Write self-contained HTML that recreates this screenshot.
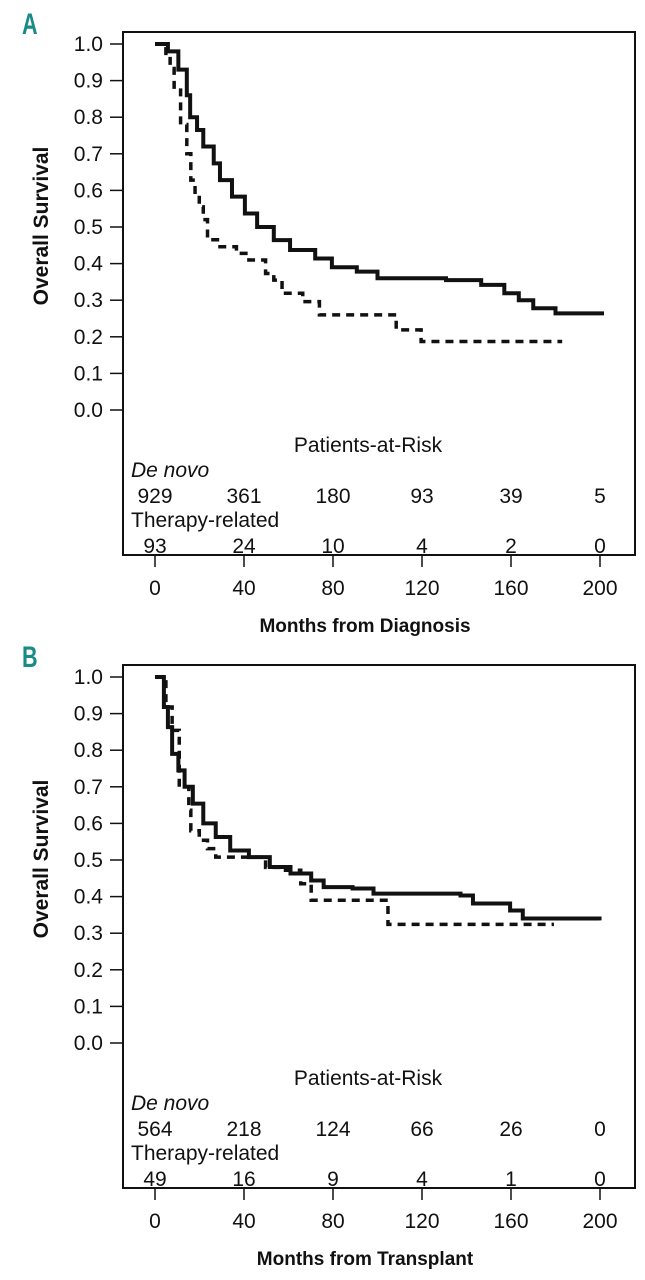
<!DOCTYPE html>
<html><head><meta charset="utf-8"><style>
body{margin:0;background:#fff;width:645px;height:1280px;overflow:hidden}
svg{display:block}
.t{font-family:"Liberation Sans Narrow","Liberation Sans",sans-serif;font-size:21px;fill:#111}
.b{font-family:"Liberation Sans",sans-serif;font-weight:bold;fill:#111}
.p{font-family:"Liberation Sans",sans-serif;font-size:30px;font-weight:bold;fill:#1a8a86}
</style></head><body>
<svg id="chart" width="645" height="1280"></svg>
<script>
const xTicks=[0,40,80,120,160,200];
const yTicks=[0.0,0.1,0.2,0.3,0.4,0.5,0.6,0.7,0.8,0.9,1.0];
const aDeNovoMonths=[0,5.8,10.5,14.3,15.8,18.9,21.7,26.4,29.2,34.6,40.4,45.9,53.4,60.7,72,79.5,90.7,100,130.8,146.6,157,163.5,170,180,201.8];
const aDeNovoSurv=[1.0,0.98,0.93,0.86,0.80,0.765,0.72,0.674,0.628,0.583,0.537,0.50,0.464,0.437,0.414,0.39,0.378,0.36,0.355,0.342,0.319,0.30,0.278,0.264,0.264];
const aTherMonths=[0,4.9,6.8,8.6,11.5,14.3,16.1,18,19.9,21.7,23.6,29.2,36.6,42.2,49.7,53.4,57.1,66.4,73.9,108.4,119.6,183];
const aTherSurv=[1.0,0.965,0.933,0.874,0.78,0.70,0.628,0.59,0.555,0.52,0.465,0.446,0.428,0.41,0.373,0.355,0.319,0.296,0.26,0.219,0.187,0.187];
const bDeNovoMonths=[0,4,5.8,7.7,10.5,13.3,17,21.7,27.3,33.8,42.2,51.6,60.9,70.2,75.8,88.8,98.2,137.3,142.9,159.6,165.3,199.8];
const bDeNovoSurv=[1.0,0.918,0.863,0.79,0.745,0.70,0.654,0.60,0.563,0.526,0.508,0.481,0.463,0.444,0.426,0.422,0.408,0.403,0.381,0.362,0.34,0.335];
const bTherMonths=[0,4.9,7.7,10.9,15.2,16.1,19.9,23.6,27.3,49.7,57.1,65.5,70.2,104.7,179.3];
const bTherSurv=[1.0,0.918,0.854,0.70,0.636,0.58,0.554,0.531,0.508,0.48,0.472,0.435,0.39,0.324,0.324];
const aRiskDeNovo=["929","361","180","93","39","5"];
const aRiskTher=["93","24","10","4","2","0"];
const bRiskDeNovo=["564","218","124","66","26","0"];
const bRiskTher=["49","16","9","4","1","0"];

const NS="http://www.w3.org/2000/svg";
const svg=document.getElementById('chart');
function mk(tag,attrs,parent){const e=document.createElementNS(NS,tag);for(const k in attrs)e.setAttribute(k,attrs[k]);(parent||svg).appendChild(e);return e;}
function xs(m){return 155+m*(600-155)/200;}

function panel(off,letter,dnM,dnS,thM,thS,riskD,riskT,title,key){
  const g=mk('g',{});
  
  
  const ys=v=>off+410-v*366;
  const L=mk('text',{x:0,y:0,class:'p',transform:`translate(22,${off+34}) scale(0.72,1)`},g);L.textContent=letter;
  
  
  const box=mk('rect',{x:123,y:off+32,width:512,height:523,fill:'none',stroke:'#111','stroke-width':2},g);
  
  
  yTicks.forEach(v=>{
    mk('line',{x1:110,x2:123,y1:ys(v),y2:ys(v),stroke:'#111','stroke-width':1.5},g);
    const t=mk('text',{x:103,y:ys(v)+7,class:'t','text-anchor':'end'},g);t.textContent=v.toFixed(1);
    
    
  });
  xTicks.forEach((m,i)=>{
    mk('line',{x1:xs(m),x2:xs(m),y1:off+555,y2:off+567,stroke:'#111','stroke-width':1.5},g);
    const t=mk('text',{x:xs(m),y:off+595,class:'t','text-anchor':'middle'},g);t.textContent=m;
    
    
    const r1=mk('text',{x:xs(m),y:off+503,class:'t','text-anchor':'middle'},g);r1.textContent=riskD[i];
    
    
    const r2=mk('text',{x:xs(m),y:off+553,class:'t','text-anchor':'middle'},g);r2.textContent=riskT[i];
    
    
  });
  const pr=mk('text',{x:368,y:off+452,class:'t','text-anchor':'middle'},g);pr.textContent='Patients-at-Risk';
  
  
  const dn=mk('text',{x:131,y:off+477,class:'t','font-style':'italic'},g);dn.textContent='De novo';
  
  
  const tr=mk('text',{x:131,y:off+527,class:'t'},g);tr.textContent='Therapy-related';
  
  
  const xt=mk('text',{x:365,y:off+632,class:'b','text-anchor':'middle','font-size':19},g);xt.textContent=title;
  
  
  const yt=mk('text',{x:0,y:0,class:'b','text-anchor':'middle','font-size':21,transform:`translate(48,${off+226}) rotate(-90)`},g);yt.textContent='Overall Survival';
  
  
  function step(M,S){let d=`M${xs(M[0])},${ys(S[0])}`;for(let i=1;i<M.length;i++){d+=` H${xs(M[i])} V${ys(S[i])}`;}return d;}
  const p1=mk('path',{d:step(thM,thS),fill:'none',stroke:'#111','stroke-width':3.5,'stroke-dasharray':'8,6'},g);
  
  
  const p2=mk('path',{d:step(dnM,dnS),fill:'none',stroke:'#111','stroke-width':4},g);
  
  
}
panel(0,'A',aDeNovoMonths,aDeNovoSurv,aTherMonths,aTherSurv,aRiskDeNovo,aRiskTher,'Months from Diagnosis','a');
panel(633,'B',bDeNovoMonths,bDeNovoSurv,bTherMonths,bTherSurv,bRiskDeNovo,bRiskTher,'Months from Transplant','b');
</script>
</body></html>
